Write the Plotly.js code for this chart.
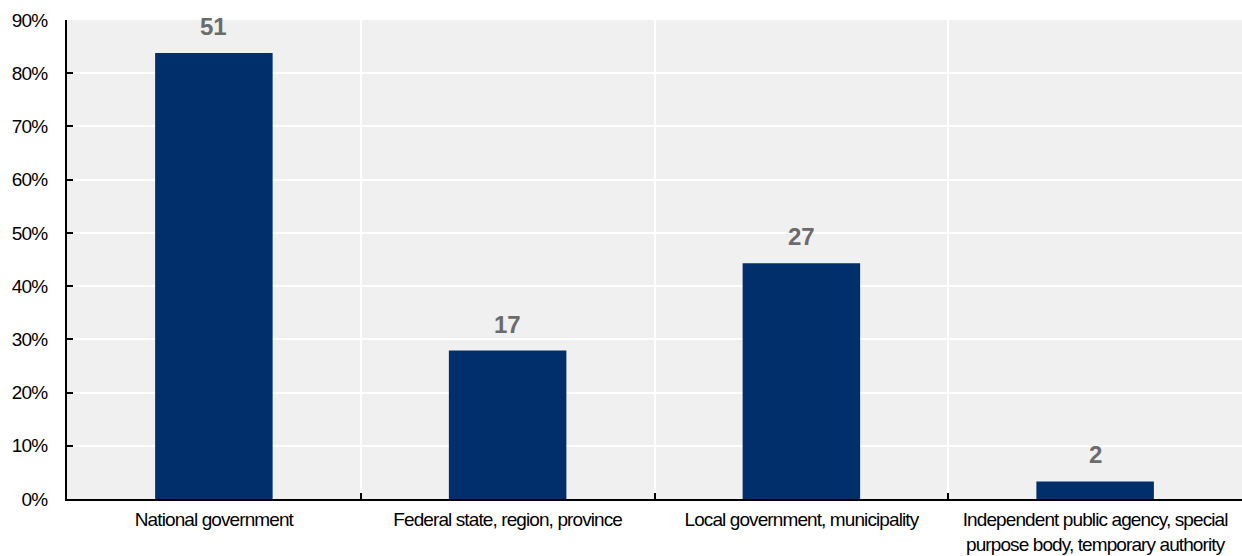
<!DOCTYPE html>
<html>
<head>
<meta charset="utf-8">
<script src="https://cdn.plot.ly/plotly-3.0.1.min.js"></script>
<style>
html,body{margin:0;padding:0;background:#fff;}
#chart{width:1242px;height:556px;}
.xtick text, .ytick text { letter-spacing: -0.9px; }
</style>
</head>
<body>
<div id="chart"></div>
<script>
const categories = [
  "National government",
  "Federal state, region, province",
  "Local government, municipality",
  "Independent public agency, special<br>purpose body, temporary authority"
];
const shares = [0.838, 0.279, 0.443, 0.033];
const counts = [51, 17, 27, 2];
const yTickValues = [0, 0.1, 0.2, 0.3, 0.4, 0.5, 0.6, 0.7, 0.8, 0.9];

const font = "Liberation Sans, Arial, sans-serif";

const labelAnnotations = categories.map((c, i) => ({
  x: c, y: shares[i], xref: 'x', yref: 'y',
  text: String(counts[i]),
  showarrow: false,
  yanchor: 'bottom', xanchor: 'center',
  yshift: 11,
  font: {family: font, size: 24, color: '#6b6b6b', weight: 'bold'}
}));

Plotly.newPlot('chart', [{
  type: 'bar',
  x: categories,
  y: shares,
  marker: {color: '#002f6c'},
  width: 0.4,
  hoverinfo: 'none'
}], {
  width: 1242, height: 556,
  margin: {l: 67, r: 0, t: 20, b: 57, pad: 0},
  paper_bgcolor: '#ffffff',
  plot_bgcolor: '#f0f0f0',
  showlegend: false,
  font: {family: font, size: 19, color: '#000'},
  annotations: labelAnnotations,
  xaxis: {
    type: 'category',
    tickson: 'boundaries',
    tickangle: 0,
    ticks: 'inside', ticklen: 6, tickcolor: '#000', tickwidth: 2,
    showgrid: true, gridcolor: '#ffffff', gridwidth: 2,
    showline: true, linecolor: '#000', linewidth: 2,
    ticklabelstandoff: 2,
    tickfont: {family: font, size: 19, color: '#000'},
    automargin: false
  },
  yaxis: {
    range: [0, 0.9],
    tickvals: yTickValues,
    tickformat: '.0%',
    ticks: 'inside', ticklen: 6, tickcolor: '#000', tickwidth: 2,
    showgrid: true, gridcolor: '#ffffff', gridwidth: 2,
    showline: true, linecolor: '#000', linewidth: 2,
    zeroline: false,
    ticklabelstandoff: 14,
    tickfont: {family: font, size: 19, color: '#000'},
    automargin: false
  }
}, {displayModeBar: false, staticPlot: true});
</script>
</body>
</html>
